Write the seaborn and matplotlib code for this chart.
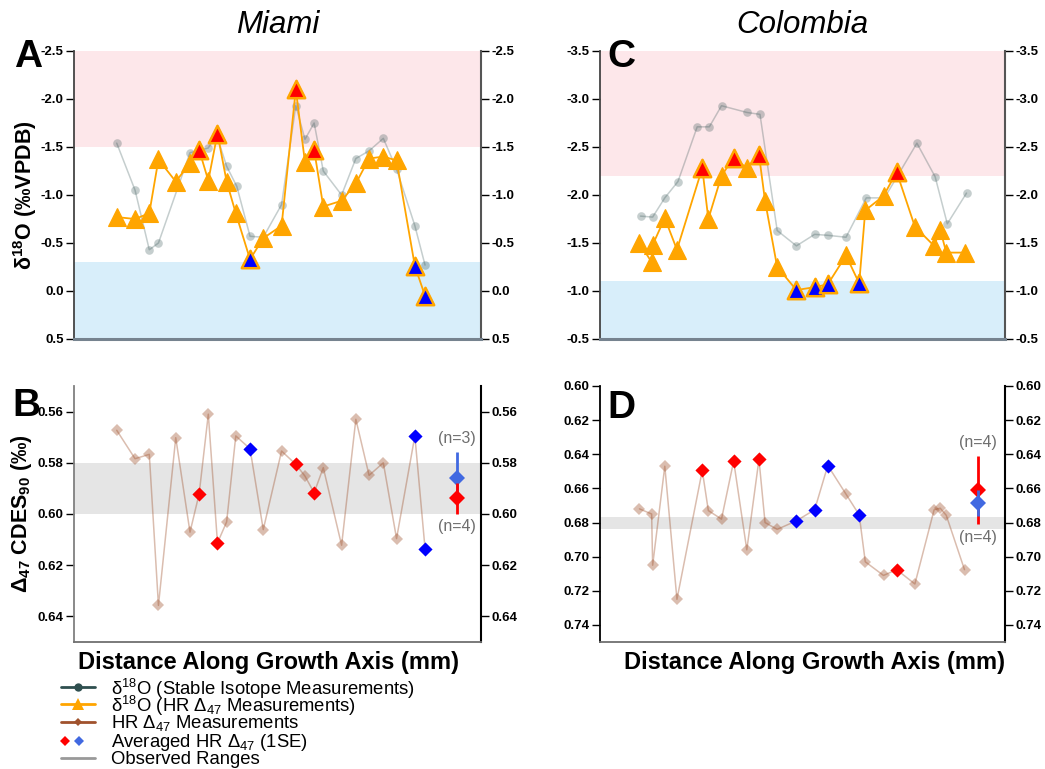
import numpy as np
import matplotlib
matplotlib.use("Agg")
import matplotlib.pyplot as plt
from matplotlib.lines import Line2D
import seaborn as sns

# ---------------- Miami ----------------
# stable isotope transect (distance in mm, d18O in permil VPDB)
mia_si_dist = [4.2, 6.0, 7.4, 8.3, 11.4, 13.2, 14.0, 15.0, 16.0, 17.3, 18.6, 20.4,
               21.8, 22.7, 23.6, 24.5, 26.3, 27.7, 29.0, 30.4, 31.7, 33.5, 34.5]
mia_si_d18o = [-1.54, -1.05, -0.43, -0.50, -1.44, -1.49, -1.63, -1.30, -1.09, -0.57, -0.56, -0.90,
               -1.93, -1.58, -1.75, -1.25, -1.00, -1.38, -1.46, -1.59, -1.27, -0.68, -0.27]
# high-resolution clumped isotope samples
mia_hr_dist = [4.2, 6.0, 7.4, 8.3, 10.0, 11.4, 12.3, 13.2, 14.1, 15.0, 15.9, 17.3, 18.6,
               20.4, 21.8, 22.7, 23.6, 24.5, 26.3, 27.7, 29.0, 30.4, 31.7, 33.5, 34.5]
mia_hr_d18o = [-0.77, -0.75, -0.81, -1.37, -1.14, -1.33, -1.47, -1.15, -1.64, -1.14, -0.81, -0.33, -0.55,
               -0.68, -2.10, -1.34, -1.47, -0.88, -0.94, -1.12, -1.38, -1.40, -1.36, -0.26, 0.05]
mia_hr_d47 = [0.5673, 0.5784, 0.5767, 0.6357, 0.5702, 0.6071, 0.5921, 0.5610, 0.6113, 0.6031, 0.5695,
              0.5745, 0.6061, 0.5754, 0.5806, 0.5852, 0.5917, 0.5819, 0.6122, 0.5630, 0.5849, 0.5800,
              0.6096, 0.5695, 0.6135]
mia_warm_idx = [6, 8, 14, 16]
mia_cold_idx = [11, 23, 24]
mia_avg_dist = 37.6
mia_avg_se = [0.0060, 0.0101]          # warm, cold
mia_warm_range = (-2.5, -1.5)
mia_cold_range = (-0.3, 0.5)
mia_d47_range = (0.58, 0.60)

# ---------------- Colombia ----------------
col_si_dist = [4.0, 5.2, 6.4, 7.7, 9.6, 10.8, 12.0, 14.5, 15.8, 17.5, 19.4, 21.2, 22.5, 24.3,
               26.3, 28.1, 31.3, 33.1, 34.3, 36.2]
col_si_d18o = [-1.78, -1.77, -1.97, -2.14, -2.71, -2.71, -2.93, -2.86, -2.84, -1.63, -1.47, -1.59,
               -1.58, -1.56, -1.97, -1.97, -2.54, -2.19, -1.70, -2.02]
col_hr_dist = [3.9, 5.1, 5.2, 6.4, 7.6, 10.1, 10.7, 12.0, 13.2, 14.5, 15.7, 16.3, 17.5, 19.4,
               21.2, 22.5, 24.3, 25.6, 26.2, 28.0, 29.3, 31.1, 33.0, 33.6, 34.2, 36.0]
col_hr_d18o = [-1.50, -1.30, -1.48, -1.76, -1.43, -2.28, -1.75, -2.20, -2.39, -2.28, -2.42, -1.94,
               -1.25, -1.01, -1.04, -1.07, -1.37, -1.08, -1.84, -1.99, -2.24, -1.67, -1.47, -1.64,
               -1.40, -1.40]
col_hr_d47 = [0.672, 0.675, 0.705, 0.647, 0.725, 0.6495, 0.673, 0.678, 0.644, 0.696, 0.643, 0.680,
              0.684, 0.679, 0.6725, 0.6466, 0.6634, 0.6755, 0.703, 0.711, 0.7076, 0.716, 0.6725,
              0.6716, 0.6758, 0.7076]
col_warm_idx = [5, 8, 10, 20]
col_cold_idx = [13, 14, 15, 17]
col_avg_dist = 37.3
col_avg_se = [0.020, 0.0077]
col_warm_range = (-3.5, -2.2)
col_cold_range = (-1.1, -0.5)
col_d47_range = (0.677, 0.684)

# axis scales and tick labels
mia_d18o_ticks = [-2.5, -2.0, -1.5, -1.0, -0.5, 0.0, 0.5]
col_d18o_ticks = [-3.5, -3.0, -2.5, -2.0, -1.5, -1.0, -0.5]
mia_d47_ticks = [0.56, 0.58, 0.60, 0.62, 0.64]
col_d47_ticks = [0.60, 0.62, 0.64, 0.66, 0.68, 0.70, 0.72, 0.74]
mia_d47_lim = (0.65, 0.55)
col_d47_lim = (0.75, 0.60)
dist_lim = (0, 40)

site_names = ["Miami", "Colombia"]
panel_letters = ["A", "B", "C", "D"]
d18o_label = r"δ$^{\mathregular{18}}$O (‰VPDB)"
d47_label = r"Δ$_{\mathregular{47}}$ CDES$_{\mathregular{90}}$ (‰)"
dist_label = "Distance Along Growth Axis (mm)"
legend_labels = [r"δ$^{\mathregular{18}}$O (Stable Isotope Measurements)",
                 r"δ$^{\mathregular{18}}$O (HR Δ$_{\mathregular{47}}$ Measurements)",
                 r"HR Δ$_{\mathregular{47}}$ Measurements",
                 r"Averaged HR Δ$_{\mathregular{47}}$ (1SE)",
                 "Observed Ranges"]

# ---------------- style ----------------
sns.set_theme(style="white")
plt.rcParams.update({
    "font.family": ["Liberation Sans", "DejaVu Sans"],
    "mathtext.fontset": "custom",
    "mathtext.rm": "Liberation Sans",
    "mathtext.it": "Liberation Sans:italic",
    "mathtext.bf": "Liberation Sans:bold",
    "axes.unicode_minus": False,
    "text.color": "black",
    "axes.labelcolor": "black",
    "xtick.color": "black",
    "ytick.color": "black",
})

PINK = "#fde7ea"
LBLUE = "#d8eefa"
BAND = "#e5e5e5"
SLATE = "darkslategray"
ORANGE = "orange"
SIENNA = "sienna"


def style_yaxis(ax, ticks, fmt, lim, left_color, right_color, bottom_color, bottom_lw):
    ax.set_ylim(*lim)
    ax.set_xlim(*dist_lim)
    ax.set_xticks([])
    ax.set_xlabel("")
    ax.set_ylabel("")
    ax.tick_params(axis="y", which="major", direction="out", length=6, width=1,
                   pad=1.5, left=True, right=True, labelleft=True, labelright=True,
                   colors="black")
    ax.set_yticks(ticks)
    ax.set_yticklabels([fmt.format(t) for t in ticks], fontweight="bold", fontsize=9.5)
    ax.spines["top"].set_visible(False)
    ax.spines["left"].set_color(left_color)
    ax.spines["left"].set_linewidth(1.3)
    ax.spines["right"].set_color(right_color)
    ax.spines["right"].set_linewidth(1.5)
    ax.spines["bottom"].set_color(bottom_color)
    ax.spines["bottom"].set_linewidth(bottom_lw)
    ax.set_facecolor("white")


def draw_d18o(ax, si_x, si_y, hr_x, hr_y, warm, cold, warm_rng, cold_rng, ticks, lim):
    ax.axhspan(warm_rng[0], warm_rng[1], color=PINK, lw=0, zorder=0)
    ax.axhspan(cold_rng[0], cold_rng[1], color=LBLUE, lw=0, zorder=0)
    sns.lineplot(x=si_x, y=si_y, ax=ax, sort=False, estimator=None, color=SLATE,
                 alpha=0.28, lw=1.1, marker="o", markersize=6.2, markeredgewidth=0, zorder=2)
    sns.lineplot(x=hr_x, y=hr_y, ax=ax, sort=False, estimator=None, color=ORANGE,
                 lw=1.3, marker="^", markersize=13.5, markeredgewidth=0.8,
                 markeredgecolor=ORANGE, zorder=3)
    hx = np.asarray(hr_x)
    hy = np.asarray(hr_y)
    sns.scatterplot(x=hx[warm], y=hy[warm], ax=ax, marker="^", s=12.5 ** 2, color="red",
                    edgecolor=ORANGE, linewidth=1.8, zorder=4, legend=False)
    sns.scatterplot(x=hx[cold], y=hy[cold], ax=ax, marker="^", s=12.5 ** 2, color="blue",
                    edgecolor=ORANGE, linewidth=1.8, zorder=4, legend=False)
    style_yaxis(ax, ticks, "{:.1f}", lim, "#444444", "#555555", "#76838f", 2.2)


def draw_d47(ax, x, y, warm, cold, band, ticks, lim, avg_x, se, left_color, blue_on_top):
    ax.axhspan(band[0], band[1], color=BAND, lw=0, zorder=0)
    sns.lineplot(x=x, y=y, ax=ax, sort=False, estimator=None, color=SIENNA, alpha=0.38,
                 lw=1.1, marker="D", markersize=6.0, markeredgewidth=0, zorder=2)
    xx = np.asarray(x)
    yy = np.asarray(y)
    sns.scatterplot(x=xx[warm], y=yy[warm], ax=ax, marker="D", s=7.2 ** 2, color="red",
                    linewidth=0, zorder=4, legend=False)
    sns.scatterplot(x=xx[cold], y=yy[cold], ax=ax, marker="D", s=7.2 ** 2, color="blue",
                    linewidth=0, zorder=4, legend=False)
    means = [yy[warm].mean(), yy[cold].mean()]
    ns = [len(warm), len(cold)]
    colors = ["red", "royalblue"]
    z = [5, 6] if blue_on_top else [6, 5]
    for m, s, c, zz in zip(means, se, colors, z):
        ax.errorbar([avg_x], [m], yerr=[s], fmt="D", color=c, ms=8.6, mew=0,
                    elinewidth=2.0, capsize=0, zorder=zz)
    upper = int(np.argmin(means))
    lower = 1 - upper
    top_end = min(m - s for m, s in zip(means, se))
    bot_end = max(m + s for m, s in zip(means, se))
    ax.annotate(f"(n={ns[upper]})", xy=(avg_x, top_end), xytext=(0, 4),
                textcoords="offset points", ha="center", va="bottom",
                color="#6e6e6e", fontsize=11.5)
    ax.annotate(f"(n={ns[lower]})", xy=(avg_x, bot_end), xytext=(0, -4),
                textcoords="offset points", ha="center", va="top",
                color="#6e6e6e", fontsize=11.5)
    style_yaxis(ax, ticks, "{:.2f}", lim, left_color, "black", "#707070", 1.3)


W, H = 1045, 769
fig = plt.figure(figsize=(W / 100, H / 100), dpi=100)
axA = fig.add_axes([74 / W, 1 - 339 / H, 407 / W, 288 / H])
axB = fig.add_axes([74 / W, 1 - 642 / H, 407 / W, 256 / H])
axC = fig.add_axes([600 / W, 1 - 339 / H, 405 / W, 288 / H])
axD = fig.add_axes([600 / W, 1 - 642 / H, 405 / W, 256 / H])

draw_d18o(axA, mia_si_dist, mia_si_d18o, mia_hr_dist, mia_hr_d18o, mia_warm_idx, mia_cold_idx,
          mia_warm_range, mia_cold_range, mia_d18o_ticks, (0.5, -2.5))
draw_d18o(axC, col_si_dist, col_si_d18o, col_hr_dist, col_hr_d18o, col_warm_idx, col_cold_idx,
          col_warm_range, col_cold_range, col_d18o_ticks, (-0.5, -3.5))
draw_d47(axB, mia_hr_dist, mia_hr_d47, mia_warm_idx, mia_cold_idx, mia_d47_range,
         mia_d47_ticks, mia_d47_lim, mia_avg_dist, mia_avg_se, "#808080", blue_on_top=False)
draw_d47(axD, col_hr_dist, col_hr_d47, col_warm_idx, col_cold_idx, col_d47_range,
         col_d47_ticks, col_d47_lim, col_avg_dist, col_avg_se, "black", blue_on_top=True)

# site titles
fig.text(277.5 / W, 1 - 25 / H, site_names[0], ha="center", va="center",
         fontsize=22.5, style="italic")
fig.text(802.5 / W, 1 - 25 / H, site_names[1], ha="center", va="center",
         fontsize=22.5, style="italic")

# panel letters
for letter, (px, py) in zip(panel_letters, [(28, 67), (26, 416), (621, 67), (621, 418)]):
    fig.text(px / W, 1 - py / H, letter, ha="center", va="baseline",
             fontsize=28, fontweight="bold")

# axis titles
fig.text(25 / W, 1 - 195 / H, d18o_label, rotation=90, ha="center", va="center",
         fontsize=15.5, fontweight="bold")
fig.text(22 / W, 1 - 514 / H, d47_label, rotation=90, ha="center", va="center",
         fontsize=15.5, fontweight="bold")
fig.text(268 / W, 1 - 663 / H, dist_label, ha="center", va="center",
         fontsize=17, fontweight="bold")
fig.text(815 / W, 1 - 663 / H, dist_label, ha="center", va="center",
         fontsize=17, fontweight="bold")

# legend, laid out row by row below panel B
# each entry: (line colour or None, [(marker, size, colour, x position), ...])
legend_entries = [
    (SLATE, [("o", 6, SLATE, 78)]),
    (ORANGE, [("^", 8, ORANGE, 78)]),
    (SIENNA, [("D", 4.5, SIENNA, 78)]),
    (None, [("D", 5.2, "red", 65), ("D", 5.2, "royalblue", 79)]),
    ("#999999", []),
]
row_mid = [687, 704, 721.5, 741, 758]
row_base = [695, 712, 728, 747, 764]
for label, (lcolor, marks), ym, yb in zip(legend_labels, legend_entries, row_mid, row_base):
    yf = 1 - ym / H
    if lcolor is not None:
        fig.add_artist(Line2D([61 / W, 95 / W], [yf, yf], transform=fig.transFigure,
                              color=lcolor, lw=2))
    for mk, ms, mc, mx in marks:
        fig.add_artist(Line2D([mx / W], [yf], transform=fig.transFigure, lw=0,
                              marker=mk, markersize=ms, color=mc, markeredgewidth=0))
    fig.text(111 / W, 1 - yb / H, label, ha="left", va="baseline", fontsize=13.3)

fig.savefig("out.png", dpi=100)
